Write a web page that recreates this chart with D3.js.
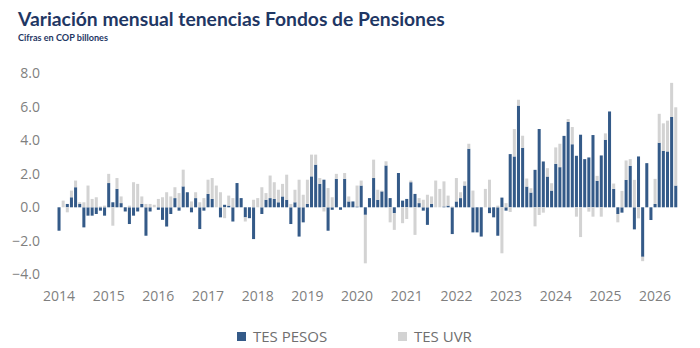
<!DOCTYPE html>
<html>
<head>
<meta charset="utf-8">
<script src="https://cdn.jsdelivr.net/npm/d3@7"></script>
<style>
    body { margin: 0; background: #fff; }
    svg { display: block; }
</style>
</head>
<body>
<svg id="chart" width="700" height="348"></svg>
<script>
// Year tick labels (shown at each January)
const years = ['2014', '2015', '2016', '2017', '2018', '2019', '2020', '2021', '2022', '2023', '2024', '2025', '2026'];

// Monthly change, COP billones — one row per year (Jan..Dec)
const tesPesos = [
    -1.4, 0, 0.2, 0.6, 1.2, 0.2, -1.2, -0.5, -0.5, -0.4, -0.2, -0.5,
    1.45, 0.3, 1.1, 0.25, -0.25, -1.0, -0.5, -0.25, 0.2, -1.7, -0.25, 0,
    -0.15, -0.75, -1.15, -0.4, 0.55, -0.2, 1.25, 0.9, -0.3, 0.55, -1.3, -0.2,
    0.8, 0.5, 0, -0.6, 0.15, 0.1, -0.85, 1.45, 0.55, -0.6, -0.65, -1.9,
    0, -0.4, 0.45, 0.55, 0.5, 0.3, 0.65, 0.45, -1.0, 0.3, -1.75, -0.9,
    0.2, 1.85, 2.55, 1.4, 1.65, -1.4, -0.15, 1.7, -0.15, 1.7, 0.35, 0.35,
    0.05, 1.3, -0.45, 0.55, 1.75, 0.45, 0.95, 2.5, 0.55, -0.35, 2.05, 0.4,
    0.5, 1.5, 0.8, 0.25, -0.2, -1.05, 0.2, 0, 0, 0.05, 0.1, -1.6,
    0.35, 0.55, 1.3, 3.5, -1.5, -1.5, -1.75, 0, -0.35, -0.6, -1.7, 0.58,
    -0.2, 3.18, 3.04, 6.08, 3.56, 1.24, 0.88, 2.24, 4.68, 2.74, 1.84, 1.0,
    2.6, 2.4, 4.27, 5.1, 3.77, 3.08, 4.34, 2.88, 2.98, 4.32, 1.58, 3.1,
    4.04, 5.73, 1.1, -0.4, -0.32, 1.64, 2.48, -1.32, 3.04, -2.96, 2.64, -0.76,
    0.2, 3.86, 3.38, 3.34, 5.4, 1.3
];

const tesUvr = [
    0, 0.4, -0.3, 0.4, 0.4, 0.1, 0.3, 1.3, 0.5, 0.6, 0.05, 0.1,
    0.55, -1.1, 0.65, 0.4, 0, 0.1, 1.5, 1.4, 0.45, 0.2, 0.2, 0.15,
    0.5, 0.6, 0.9, 0.65, 0.65, 0.85, 1.0, 0, 0.35, 0.35, 0.3, 0.55,
    0.85, 1.25, 1.3, 0.9, -0.65, 0.6, 0.55, 0, 0, -0.25, 0, 0.45,
    0.55, 1.2, 0.4, 1.35, 1.0, 0.75, 0.75, 1.5, 0.2, 0.75, 1.65, 0.75,
    1.45, 1.3, 0.6, 0.35, -0.25, 1.15, 0.6, 0.3, 0, 0.35, 0.3, 0,
    1.25, 0.3, -2.9, 0, 1.1, 0.6, 0.05, 0.25, -0.9, -1.0, 0, -0.95,
    -0.7, 0.1, -1.65, 0.3, 0.45, 0.75, 0.45, 1.6, 1.1, 1.5, 0.6, 0.05,
    1.4, 0.35, 0.25, 0.3, 1.0, 0, 0, 1.1, 1.65, 0, 0.1, -2.75,
    0.25, -0.28, 1.64, 0.35, 0.72, 0.48, 0.26, -1.14, -0.46, -0.32, 0.5, 0.44,
    0.98, 1.4, 0, 0.18, 1.03, -0.56, -1.78, 0, -0.26, -0.56, 0.3, -0.56,
    0.38, 0, 0.32, -0.5, 0.98, 1.16, 0.4, 1.64, -0.66, -0.26, 0, 0,
    1.5, 1.73, 1.64, 1.84, 2.04, 4.68
];

const seriesKeys = ['TES PESOS', 'TES UVR'];
const seriesColors = ['#345a88', '#d3d3d3'];
const yTicks = [-4, -2, 0, 2, 4, 6, 8];

// Build the table: one row per month, starting Jan 2014
const months = d3.timeMonth.range(new Date(2014, 0, 1), new Date(2014, tesPesos.length, 1));
const table = months.map((m, i) => ({
    month: m,
    key: d3.timeFormat('%Y-%m')(m),
    'TES PESOS': tesPesos[i],
    'TES UVR': tesUvr[i],
}));

const svg = d3.select('#chart');

// Titles
svg.append('text')
  .attr('x', 18)
  .attr('y', 26)
  .attr('fill', '#1f3764')
  .style('font-family', 'Lato, sans-serif')
  .style('font-weight', 700)
  .style('font-size', '19.3px')
  .text('Variación mensual tenencias Fondos de Pensiones');

svg.append('text')
  .attr('x', 18)
  .attr('y', 41)
  .attr('fill', '#1f3764')
  .style('font-family', 'Lato, sans-serif')
  .style('font-weight', 700)
  .style('font-size', '9.1px')
  .text('Cifras en COP billones');

// Scales
const xScale = d3.scaleBand()
  .domain(table.map((d) => d.key))
  .range([56.9, 56.9 + 4.14 * table.length])
  .paddingInner(0.27)
  .paddingOuter(0.15);

const yScale = d3.scaleLinear()
  .domain([-4, 8])
  .range([274.2, 73.5]);

const colorScale = d3.scaleOrdinal().domain(seriesKeys).range(seriesColors);

// Stack with diverging offset: positives build up, negatives build down
const stacked = d3.stack()
  .keys(seriesKeys)
  .offset(d3.stackOffsetDiverging)(table);

const bars = svg.append('g').attr('class', 'bars');

bars.selectAll('g')
  .data(stacked)
  .join('g')
  .attr('fill', (s) => colorScale(s.key))
  .selectAll('rect')
  .data((s) => s)
  .join('rect')
  .attr('x', (d) => xScale(d.data.key))
  .attr('width', xScale.bandwidth())
  .attr('y', (d) => yScale(Math.max(d[0], d[1])))
  .attr('height', (d) => Math.abs(yScale(d[0]) - yScale(d[1])));

// Y axis (labels only)
const yAxis = d3.axisLeft(yScale)
  .tickValues(yTicks)
  .tickFormat(d3.format('.1f'))
  .tickSize(0)
  .tickPadding(0);

svg.append('g')
  .attr('transform', 'translate(40,0)')
  .call(yAxis)
  .call((g) => g.select('.domain').remove())
  .selectAll('text')
  .attr('fill', '#7f7f7f')
  .style('font-family', '"Open Sans", sans-serif')
  .style('font-size', '14px');

// X axis: year label under each January bar
const januaries = table.filter((d) => d.month.getMonth() === 0).map((d) => d.key);

const xAxis = d3.axisBottom(xScale)
  .tickValues(januaries)
  .tickFormat((k, i) => years[i])
  .tickSize(0)
  .tickPadding(0);

svg.append('g')
  .attr('transform', 'translate(0,291)')
  .call(xAxis)
  .call((g) => g.select('.domain').remove())
  .selectAll('text')
  .attr('fill', '#7f7f7f')
  .style('font-family', '"Open Sans", sans-serif')
  .style('font-size', '14px');

// Legend
const legendX = [237, 398];
const legend = svg.append('g').attr('class', 'legend');

seriesKeys.forEach((key, i) => {
    const item = legend.append('g')
      .attr('transform', `translate(${legendX[i]},332)`);
    item.append('rect')
      .attr('width', 9)
      .attr('height', 9)
      .attr('fill', colorScale(key));
    item.append('text')
      .attr('x', 16)
      .attr('y', 10)
      .attr('fill', '#6f6f6f')
      .style('font-family', '"Open Sans", sans-serif')
      .style('font-size', '15px')
      .text(key);
});
</script>
</body>
</html>
